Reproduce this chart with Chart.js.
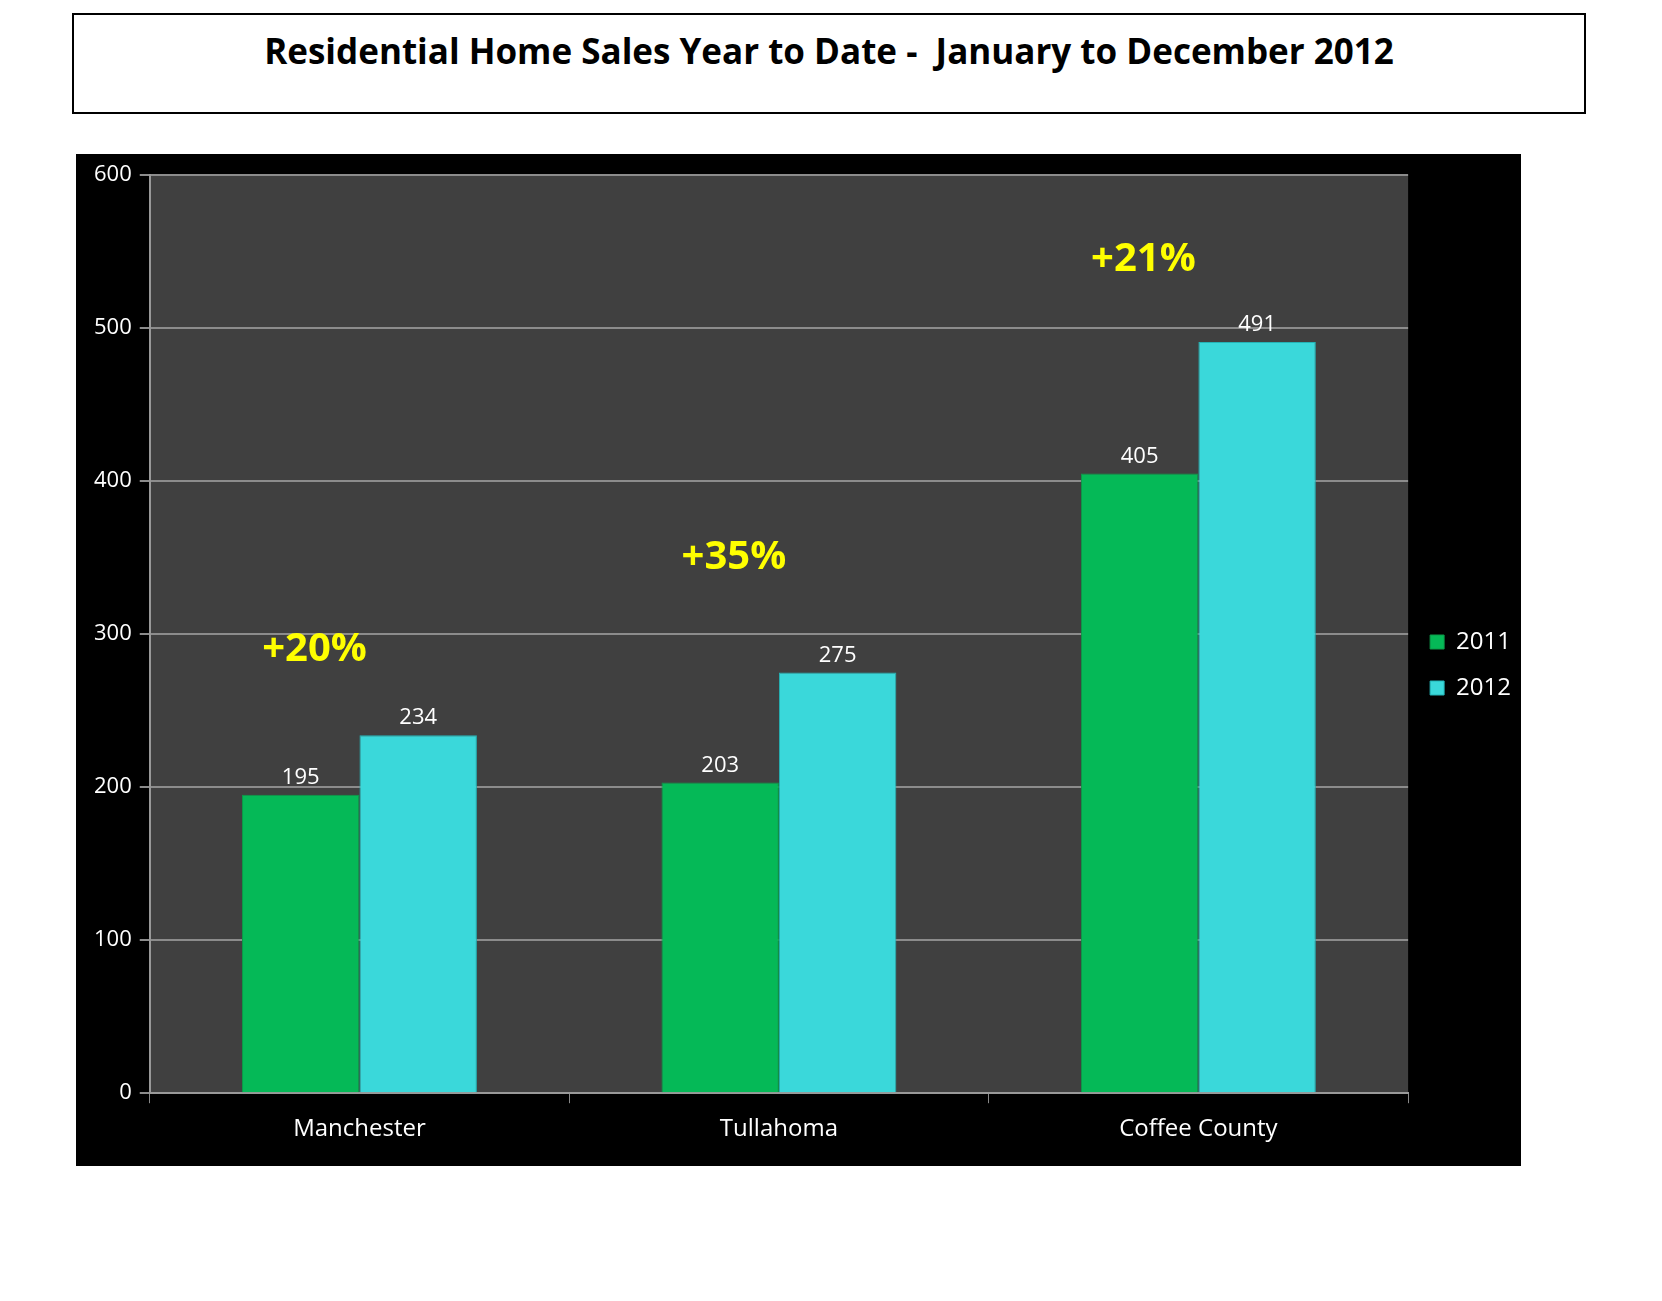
<!DOCTYPE html>
<html><head><meta charset="utf-8">
<script src="https://cdn.jsdelivr.net/npm/chart.js@4"></script>
<style>
body{margin:0;background:#fff;width:1662px;height:1301px;position:relative;font-family:"Open Sans",sans-serif}
#title{position:absolute;left:72px;top:13px;width:1514px;height:101px;border:2px solid #000;box-sizing:border-box;text-align:center;font-weight:bold;font-size:35px;line-height:72px}
#wrap{position:absolute;left:76px;top:154px;width:1445px;height:1012px;background:#000}
</style></head><body>
<div id="title">Residential Home Sales Year to Date -&nbsp; January to December 2012</div>
<div id="wrap"><canvas id="c" width="1445" height="1012"></canvas></div>
<script>
const categories=["Manchester","Tullahoma","Coffee County"];
const sales2011=[195,203,405];
const sales2012=[234,275,491];
const changeLabels=["+20%","+35%","+21%"];
const changeLabelValues=[290,350,545];
const yTicks=[0,100,200,300,400,500,600];

const plotBg={id:'plotBg',beforeDraw(ch){const a=ch.chartArea,c=ch.ctx;c.save();c.fillStyle='#404040';c.fillRect(a.left,a.top,a.right-a.left,a.bottom-a.top);c.restore();}};
const extras={id:'extras',afterDatasetsDraw(ch){const c=ch.ctx,x=ch.scales.x,y=ch.scales.y;c.save();
 c.font='bold 40px "Open Sans"';c.fillStyle='#ffff00';c.textAlign='center';c.textBaseline='middle';
 changeLabels.forEach((t,i)=>c.fillText(t,x.getPixelForValue(i)-(i==2?55:45),y.getPixelForValue(changeLabelValues[i])));
 c.font='22px "Open Sans"';c.fillStyle='#fff';c.textBaseline='bottom';
 ch.data.datasets.forEach((d,di)=>{ch.getDatasetMeta(di).data.forEach((b,i)=>c.fillText(d.data[i],b.x,b.y-6));});
 c.restore();}};
new Chart(document.getElementById('c'),{type:'bar',
data:{labels:categories,datasets:[
 {label:'2011',data:sales2011,backgroundColor:'#05b957',borderColor:'#0c9a48',borderWidth:1},
 {label:'2012',data:sales2012,backgroundColor:'#3ad8da',borderColor:'#23b3b6',borderWidth:1}]},
options:{responsive:false,animation:false,
 layout:{padding:{left:10,top:20,right:0,bottom:10}},
 datasets:{bar:{categoryPercentage:0.56,barPercentage:1}},
 plugins:{legend:{position:'right',labels:{color:'#fff',font:{size:24,family:'"Open Sans"'},boxWidth:14,boxHeight:14,padding:22}},tooltip:{enabled:false}},
 scales:{
  x:{grid:{display:true,drawOnChartArea:false,color:'#888',tickLength:10,offset:true},border:{color:'#999',width:2},ticks:{color:'#fff',font:{size:24,family:'"Open Sans"'},padding:12}},
  y:{min:0,max:600,afterBuildTicks(s){s.ticks=yTicks.map(v=>({value:v}));},grid:{color:'#8c8c8c',lineWidth:2,tickLength:10},border:{color:'#999',width:2},ticks:{color:'#fff',font:{size:22,family:'"Open Sans"'},padding:8}}}
},
plugins:[plotBg,extras]});
</script></body></html>
